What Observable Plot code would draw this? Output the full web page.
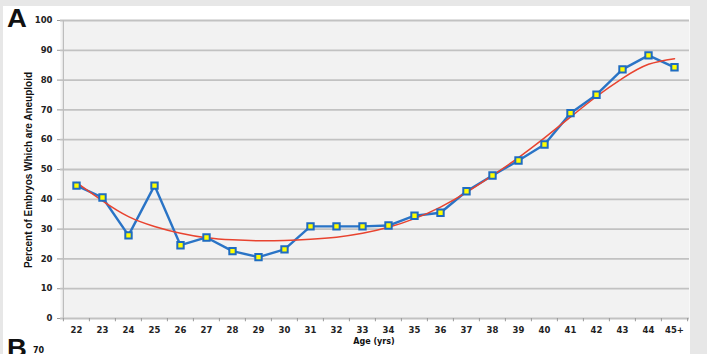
<!DOCTYPE html>
<html><head><meta charset="utf-8">
<script src="https://cdn.jsdelivr.net/npm/d3@7"></script>
<script src="https://cdn.jsdelivr.net/npm/@observablehq/plot@0.6"></script>
<style>
html,body{margin:0;padding:0;}
body{width:707px;height:354px;overflow:hidden;background:#e7e7e7;position:relative;font-family:"DejaVu Sans",sans-serif;}
#panel{position:absolute;left:3px;top:6px;width:687px;height:348px;background:#fff;}
#chart{position:absolute;left:0;top:0;}
.lbl{position:absolute;font-family:"Liberation Sans",Arial,sans-serif;font-weight:bold;color:#111;}
</style></head><body>
<div id="panel"></div>
<div id="chart"></div>
<div class="lbl" style="left:7px;top:4px;font-size:25px;transform:scaleX(1.1);transform-origin:left top;">A</div>
<div class="lbl" style="left:7px;top:334px;font-size:25px;transform:scaleX(1.1);transform-origin:left top;">B</div>
<div class="lbl" style="left:33px;top:346px;font-size:8px;font-family:'DejaVu Sans';">70</div>
<script>
const ages = ["22","23","24","25","26","27","28","29","30","31","32","33","34","35","36","37","38","39","40","41","42","43","44","45+"];
const aneuploidPct = [44.6,40.6,27.9,44.6,24.6,27.2,22.6,20.6,23.2,30.9,30.9,30.9,31.2,34.5,35.5,42.7,48.0,53.0,58.4,68.9,75.1,83.6,88.3,84.3];
const trendPct = [45.6,39.5,34.2,30.9,28.6,27.1,26.4,26.1,26.2,26.6,27.3,28.6,30.6,33.5,37.4,42.3,48.0,54.0,60.6,67.6,74.5,80.6,85.3,87.2];
const yTicks = [0,10,20,30,40,50,60,70,80,90,100];
const yLabel = "Percent of Embryos Which are Aneuploid";
const xLabel = "Age (yrs)";

const data = ages.map((a,i)=>({age:a, v:aneuploidPct[i], t:trendPct[i]}));
const W=707, H=354, ML=60, MR=18;
const step = (W-ML-MR)/ages.length;

const plot = Plot.plot({
  width: W, height: H,
  marginLeft: ML, marginRight: MR, marginTop: 20, marginBottom: 36,
  style: {background:"transparent", fontFamily:"DejaVu Sans", fontWeight:"bold", fontSize:"8px", color:"#222"},
  x: {type:"point", domain: ages, padding:0.5, label:null},
  y: {domain:[0,100], label:null},
  marks: [
    Plot.frame({fill:"#f2f2f2", stroke:null}),
    Plot.ruleY(yTicks, {stroke:"#c2c2c2", strokeWidth:1.8}),
    Plot.ruleX([0], {x: ()=>ages[0], dx:-step/2, y1:0, y2:100, stroke:"#bdbdbd", strokeWidth:1.2}),
    Plot.ruleX(ages, {dx:-step/2, y1:0, y2:-1.1, stroke:"#9a9a9a", strokeWidth:1}),
    Plot.ruleX([ages[ages.length-1]], {dx:step/2, y1:0, y2:-1.1, stroke:"#9a9a9a", strokeWidth:1}),
    Plot.axisY({ticks:yTicks, tickSize:3, tickPadding:5, stroke:"#9a9a9a", fill:"#222", fontWeight:"bold", fontSize:8.5, label:null}),
    Plot.axisX({tickSize:0, tickPadding:8, fill:"#222", fontWeight:"bold", fontSize:8.5, label:null}),
    Plot.line(data, {x:"age", y:"v", stroke:"#2a74c6", strokeWidth:2.4}),
    Plot.line(data, {x:"age", y:"t", stroke:"#e8432f", strokeWidth:1.5, curve:"natural"}),
    Plot.dot(data, {x:"age", y:"v", symbol:"square", r:3.6, fill:"#ffff00", stroke:"#1f6cc0", strokeWidth:2})
  ]
});
document.getElementById("chart").appendChild(plot);

const svg = d3.select(plot);
svg.append("text").attr("transform","translate(29,170) rotate(-90) scale(0.87,1)")
  .attr("text-anchor","middle").attr("dominant-baseline","middle")
  .style("font-family","'Liberation Sans Narrow','Liberation Sans',Arial,sans-serif")
  .style("font-weight","bold").style("font-size","11.5px").attr("fill","#111")
  .text(yLabel);
svg.append("text").attr("x", 374).attr("y", 344)
  .attr("text-anchor","middle")
  .style("font-family","'DejaVu Sans',sans-serif")
  .style("font-weight","bold").style("font-size","8px").attr("fill","#111")
  .text(xLabel);
</script>
</body></html>
